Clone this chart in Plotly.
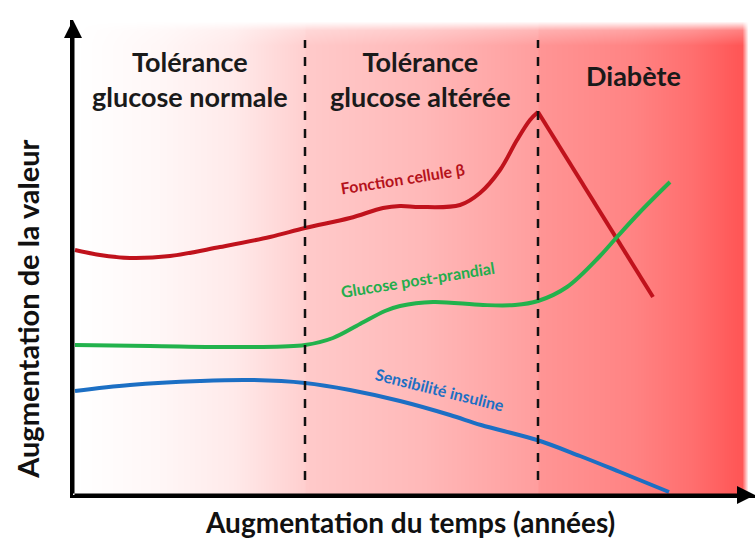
import plotly.graph_objects as go

# ---- data (arbitrary units: time on x, value on y) ----
red_x = [2, 27, 57, 97, 147, 197, 232, 277, 310, 327, 347, 387, 407, 427, 444, 457, 465]
red_y = [245, 240, 237, 239, 248, 258, 267, 277, 287, 289, 288, 290, 302, 325, 355, 375, 383]
red_drop_x = [465, 580]
red_drop_y = [383, 198]

green_x = [2, 77, 177, 232, 260, 287, 312, 327, 360, 410, 442, 465, 494, 527, 544, 567, 597]
green_y = [150, 149, 148, 150, 157, 171, 184, 189, 193, 190, 190, 194, 208, 239, 258, 283, 313]

blue_x = [2, 57, 127, 177, 232, 277, 327, 377, 408, 464, 507, 547, 596]
blue_y = [104, 110, 114, 115, 112, 105, 94, 80, 70, 55, 39, 23, 3]

phase_bounds = [232, 465]
phase_labels = ["Tolérance<br>glucose normale", "Tolérance<br>glucose altérée", "Diabète"]

# background gradient (style)
grad_x = [2, 40, 90, 160, 231, 233, 350, 464, 466, 560, 620, 665, 669, 675]
grad_h = [0.0, 0.02, 0.05, 0.12, 0.27, 0.30, 0.40, 0.55, 0.60, 0.70, 0.82, 0.95, 0.95, 0.0]
grad_y = [2, 450, 465, 474]
grad_v = [1.0, 1.0, 0.75, 0.0]

X_MAX, Y_MAX = 682, 475

fig = go.Figure()

fig.add_trace(go.Heatmap(
    x=grad_x, y=grad_y,
    z=[[v * h for h in grad_h] for v in grad_v],
    colorscale=[[0, "#ffffff"], [1, "#ff4e4e"]],
    zmin=0, zmax=1, zsmooth="best", showscale=False, hoverinfo="skip"))

fig.add_trace(go.Scatter(x=red_x, y=red_y, mode="lines", line=dict(color="#c0121c", width=4, shape="spline"),
                         showlegend=False))
fig.add_trace(go.Scatter(x=red_drop_x, y=red_drop_y, mode="lines", line=dict(color="#c0121c", width=4),
                         showlegend=False))
fig.add_trace(go.Scatter(x=green_x, y=green_y, mode="lines", line=dict(color="#22b24c", width=4, shape="spline"),
                         showlegend=False))
fig.add_trace(go.Scatter(x=blue_x, y=blue_y, mode="lines", line=dict(color="#1c6fc4", width=4, shape="spline"),
                         showlegend=False))

shapes = []
for b in phase_bounds:
    shapes.append(dict(type="line", xref="x", yref="y", x0=b, x1=b, y0=15, y1=455,
                       line=dict(color="#111111", width=2.5, dash="dash")))

F = "Lato, Open Sans, sans-serif"
ann = []
# axes arrows
ann.append(dict(x=0, y=Y_MAX, ax=0, ay=0, xref="x", yref="y", axref="x", ayref="y", text="",
                showarrow=True, arrowhead=2, arrowsize=1.2, arrowwidth=3, arrowcolor="#000"))
ann.append(dict(x=X_MAX, y=0, ax=0, ay=0, xref="x", yref="y", axref="x", ayref="y", text="",
                showarrow=True, arrowhead=2, arrowsize=1.2, arrowwidth=3, arrowcolor="#000"))

HS = 27
ann.append(dict(x=117, y=416, text="<b>" + phase_labels[0] + "</b>", showarrow=False,
                font=dict(family=F, size=HS, color="#1a1a1a")))
ann.append(dict(x=347, y=416, text="<b>" + phase_labels[1] + "</b>", showarrow=False,
                font=dict(family=F, size=HS, color="#1a1a1a")))
ann.append(dict(x=560, y=420, text="<b>" + phase_labels[2] + "</b>", showarrow=False,
                font=dict(family=F, size=HS, color="#1a1a1a")))

ann.append(dict(x=329, y=317, text="<b>Fonction cellule β</b>", showarrow=False, textangle=-9,
                font=dict(family=F, size=16, color="#b5121b")))
ann.append(dict(x=344, y=216, text="<b>Glucose post-prandial</b>", showarrow=False, textangle=-9,
                font=dict(family=F, size=16, color="#23ad4c")))
ann.append(dict(x=367, y=106, text="<b>Sensibilité insuline</b>", showarrow=False, textangle=14,
                font=dict(family=F, size=16, color="#1c6fc4")))

ann.append(dict(x=-0.066, y=0.392, xref="paper", yref="paper", xanchor="center", yanchor="middle",
                text="<b>Augmentation de la valeur</b>",
                showarrow=False, textangle=-90, font=dict(family=F, size=29, color="#111")))
ann.append(dict(x=0.494, y=-0.057, xref="paper", yref="paper", xanchor="center", yanchor="middle",
                text="<b>Augmentation du temps (années)</b>",
                showarrow=False, font=dict(family=F, size=28, color="#111")))

fig.update_layout(
    width=755, height=547,
    margin=dict(l=73, r=0, t=20, b=52),
    paper_bgcolor="white", plot_bgcolor="white",
    shapes=shapes, annotations=ann,
    xaxis=dict(range=[0, X_MAX], showgrid=False, zeroline=False, showticklabels=False, ticks="",
               showline=True, linecolor="#000", linewidth=3, fixedrange=True),
    yaxis=dict(range=[0, Y_MAX], showgrid=False, zeroline=False, showticklabels=False, ticks="",
               showline=True, linecolor="#000", linewidth=3, fixedrange=True),
)

fig.write_html("out.html", config={"displayModeBar": False},
               post_script="document.body.style.margin='0';")
